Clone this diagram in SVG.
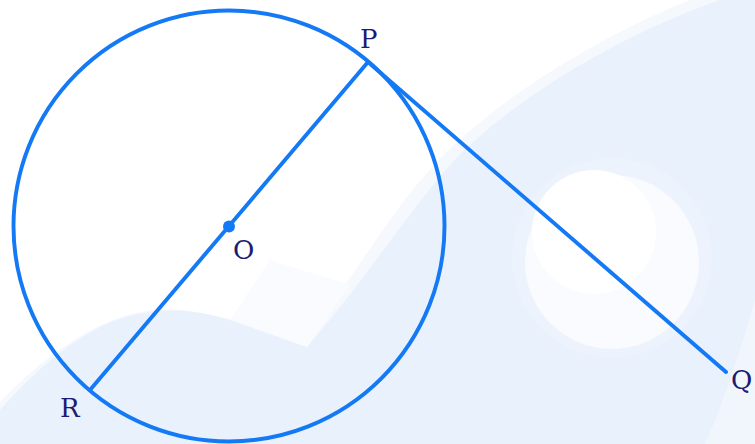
<svg xmlns="http://www.w3.org/2000/svg" width="755" height="444" viewBox="0 0 755 444">
  <style>
    .fig { fill: none; stroke: #1479f5; stroke-width: 3.9; stroke-linecap: round; }
    .lbl { font-family: "DejaVu Serif", "Liberation Serif", serif; font-size: 26px; fill: #1e1b72; }
  </style>
  <g id="background">
    <rect x="0" y="0" width="755" height="444" fill="#ffffff"/>
    <path d="M 755,0 L 690,0 C 590,40 480,110 425,175 C 390,215 350,280 300,350 C 250,330 200,300 140,312 C 90,322 40,360 0,402 L 0,444 L 755,444 Z" fill="#f5f8fd"/>
    <path d="M 755,0 L 720,0 C 620,35 510,100 450,165 C 410,210 365,280 307,347 C 250,325 200,305 150,312 C 95,318 45,360 0,410 L 0,444 L 755,444 Z" fill="#e9f1fc"/>
    <path d="M 230,320 L 307,347 L 350,285 L 270,260 Z" fill="#f9fbfe"/>
    <path d="M 755,300 C 740,350 725,400 705,444 L 755,444 Z" fill="#f1f6fd"/>
    <circle cx="612" cy="258" r="100" fill="#edf3fd"/>
    <circle cx="612" cy="262" r="87" fill="#f9fbff"/>
    <circle cx="594" cy="232" r="62" fill="#ffffff"/>
  </g>
  <g id="connectors">
    <line class="fig" x1="368" y1="62" x2="90" y2="390"/>
    <line class="fig" x1="368" y1="62" x2="726" y2="372"/>
  </g>
  <g id="circle">
    <circle class="fig" cx="229" cy="226" r="215.5"/>
  </g>
  <g id="O">
    <circle cx="229" cy="226.5" r="6" fill="#1479f5"/>
    <text class="lbl" x="233" y="259">O</text>
  </g>
  <g id="P"><text class="lbl" x="360" y="48">P</text></g>
  <g id="R"><text class="lbl" x="60" y="417">R</text></g>
  <g id="Q"><text class="lbl" x="731" y="389">Q</text></g>
</svg>
